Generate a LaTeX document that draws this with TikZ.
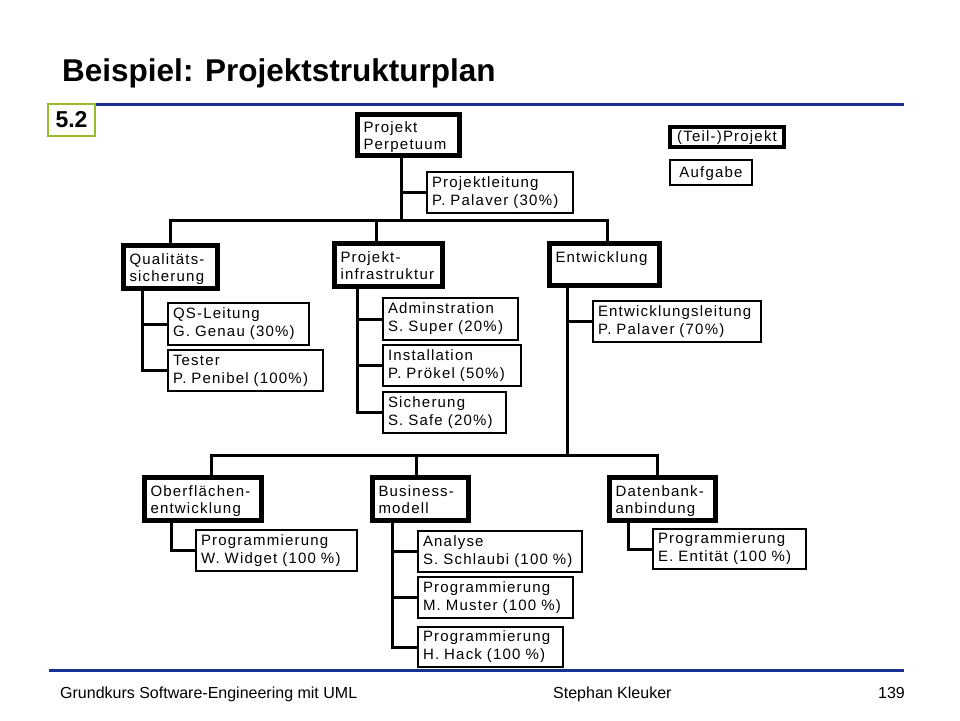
\documentclass[tikz,border=0pt]{standalone}
\usepackage{fontspec}
\setmainfont{Liberation Sans}
\newfontfamily\boxfont[LetterSpace=8]{Liberation Sans}
\usepackage{xcolor}
\usepackage{tikz}
\usetikzlibrary{calc}

\definecolor{slideblue}{RGB}{24,48,148}
\definecolor{slidegreen}{RGB}{150,190,40}

\begin{document}
\begin{tikzpicture}[x=1pt,y=-1pt,
    proj/.style={draw,line width=5pt,fill=white,anchor=north west,outer sep=0pt,
      inner xsep=6.5pt,inner ysep=0pt,align=left,text height=11pt,text depth=15pt,
      font=\boxfont\fontsize{15}{16.5}\selectfont},
    task/.style={draw,line width=1.2pt,fill=white,anchor=north west,outer sep=0pt,
      inner xsep=5pt,inner ysep=0pt,align=left,font=\boxfont\fontsize{15}{18}\selectfont},
    conn/.style={line width=3pt}]
      \useasboundingbox (0,0) rectangle (960,720);

      % title and rules
      \node[anchor=base west,inner sep=0pt,font=\bfseries\fontsize{31.5}{36}\selectfont] (title) at (62,81) {Beispiel: Projektstrukturplan};
      \draw[slideblue,line width=3pt] (96,104) -- (904,104);
      \node[draw=slidegreen,line width=2.5pt,fill=white,anchor=north west,outer sep=0pt,
        minimum width=47pt,minimum height=32pt,font=\bfseries\fontsize{23}{26}\selectfont] (chap) at (48,104) {5.2};

      % legend
      \node[proj,line width=4pt,minimum width=114pt,minimum height=20pt,text height=11pt,text depth=2pt] (leg1) at (670,127) {(Teil-)Projekt};
      \node[task,minimum width=82pt,minimum height=25pt,text height=11pt,text depth=2pt] (leg2) at (670,160) {Aufgabe};

      % projects
      \node[proj,text width=89pt,minimum height=41pt] (perp) at (357,114) {Projekt\\Perpetuum};
      \node[proj,text width=81pt,minimum height=43pt] (qs) at (123,245) {Qualitäts-\\sicherung};
      \node[proj,text width=95pt,minimum height=43pt] (infra) at (334,243) {Projekt-\\infrastruktur};
      \node[proj,text width=97pt,minimum height=42pt] (entw) at (549,243) {Entwicklung\\\mbox{}};
      \node[proj,text width=104pt,minimum height=43pt] (ober) at (144,477) {Oberflächen-\\entwicklung};
      \node[proj,text width=83pt,minimum height=43pt] (bm) at (372,477) {Business-\\modell};
      \node[proj,text width=93pt,minimum height=43pt] (db) at (609,477) {Datenbank-\\anbindung};

      % tasks
      \node[task,text width=136pt,minimum height=41pt] (pl) at (427,172) {Projektleitung\\P.~Palaver~(30\%)};
      \node[task,text width=131pt,minimum height=42pt] (qsl) at (168,303) {QS-Leitung\\G.~Genau~(30\%)};
      \node[task,text width=145pt,minimum height=41pt] (test) at (168,350) {Tester\\P.~Penibel~(100\%)};
      \node[task,text width=125pt,minimum height=42pt] (adm) at (383,298) {Adminstration\\S.~Super~(20\%)};
      \node[task,text width=128pt,minimum height=41pt] (inst) at (383,345) {Installation\\P.~Prökel~(50\%)};
      \node[task,text width=113pt,minimum height=41pt] (sich) at (383,392) {Sicherung\\S.~Safe~(20\%)};
      \node[task,text width=158pt,minimum height=41pt] (el) at (593,301) {Entwicklungsleitung\\P.~Palaver~(70\%)};
      \node[task,text width=151pt,minimum height=41pt] (pw) at (196,530) {Programmierung\\W.~Widget~(100~\%)};
      \node[task,text width=154pt,minimum height=41pt] (ana) at (418,531) {Analyse\\S.~Schlaubi~(100~\%)};
      \node[task,text width=145pt,minimum height=41pt] (must) at (418,577) {Programmierung\\M.~Muster~(100~\%)};
      \node[task,text width=135pt,minimum height=40pt] (hack) at (418,627) {Programmierung\\H.~Hack~(100~\%)};
      \node[task,text width=143pt,minimum height=40pt] (pe) at (653,529) {Programmierung\\E.~Entität~(100~\%)};

      % upper level
      \coordinate (top) at (401,220);
      \coordinate (q) at (170,220);
      \coordinate (i) at (376,220);
      \coordinate (e) at (607,220);
      \draw[conn] (perp.south -| top) -- (top);
      \draw[conn] (top |- pl.west) -- (pl.west);
      \draw[conn] (q |- qs.north) -- (q) -- (e) -- (e |- entw.north);
      \draw[conn] (i) -- (i |- infra.north);

      \coordinate (qt) at (142,0);
      \coordinate (it) at (357,0);
      \foreach \n in {qsl,test}
        \draw[conn] (qs.south -| qt) |- (\n.west);
      \foreach \n in {adm,inst,sich}
        \draw[conn] (infra.south -| it) |- (\n.west);

      % lower level
      \coordinate (low) at (567,455);
      \coordinate (o) at (211,455);
      \coordinate (b) at (416,455);
      \coordinate (d) at (657,455);
      \draw[conn] (entw.south -| low) -- (low);
      \draw[conn] (low |- el.west) -- (el.west);
      \draw[conn] (o |- ober.north) -- (o) -- (d) -- (d |- db.north);
      \draw[conn] (b) -- (b |- bm.north);

      \coordinate (ot) at (171,0);
      \coordinate (bt) at (392,0);
      \coordinate (dt) at (628,0);
      \draw[conn] (ober.south -| ot) |- (pw.west);
      \foreach \n in {ana,must,hack}
        \draw[conn] (bm.south -| bt) |- (\n.west);
      \draw[conn] (db.south -| dt) |- (pe.west);

      % footer
      \draw[slideblue,line width=3pt] (49,670) -- (904,670);
      \node[anchor=base west,inner sep=0pt,font=\fontsize{16}{18}\selectfont] (f1) at (60,698) {Grundkurs Software-Engineering mit UML};
      \node[anchor=base west,inner sep=0pt,font=\fontsize{16}{18}\selectfont] (f2) at (553,698) {Stephan Kleuker};
      \node[anchor=base east,inner sep=0pt,font=\fontsize{16}{18}\selectfont] (f3) at (905,698) {139};
    \end{tikzpicture}
\end{document}
